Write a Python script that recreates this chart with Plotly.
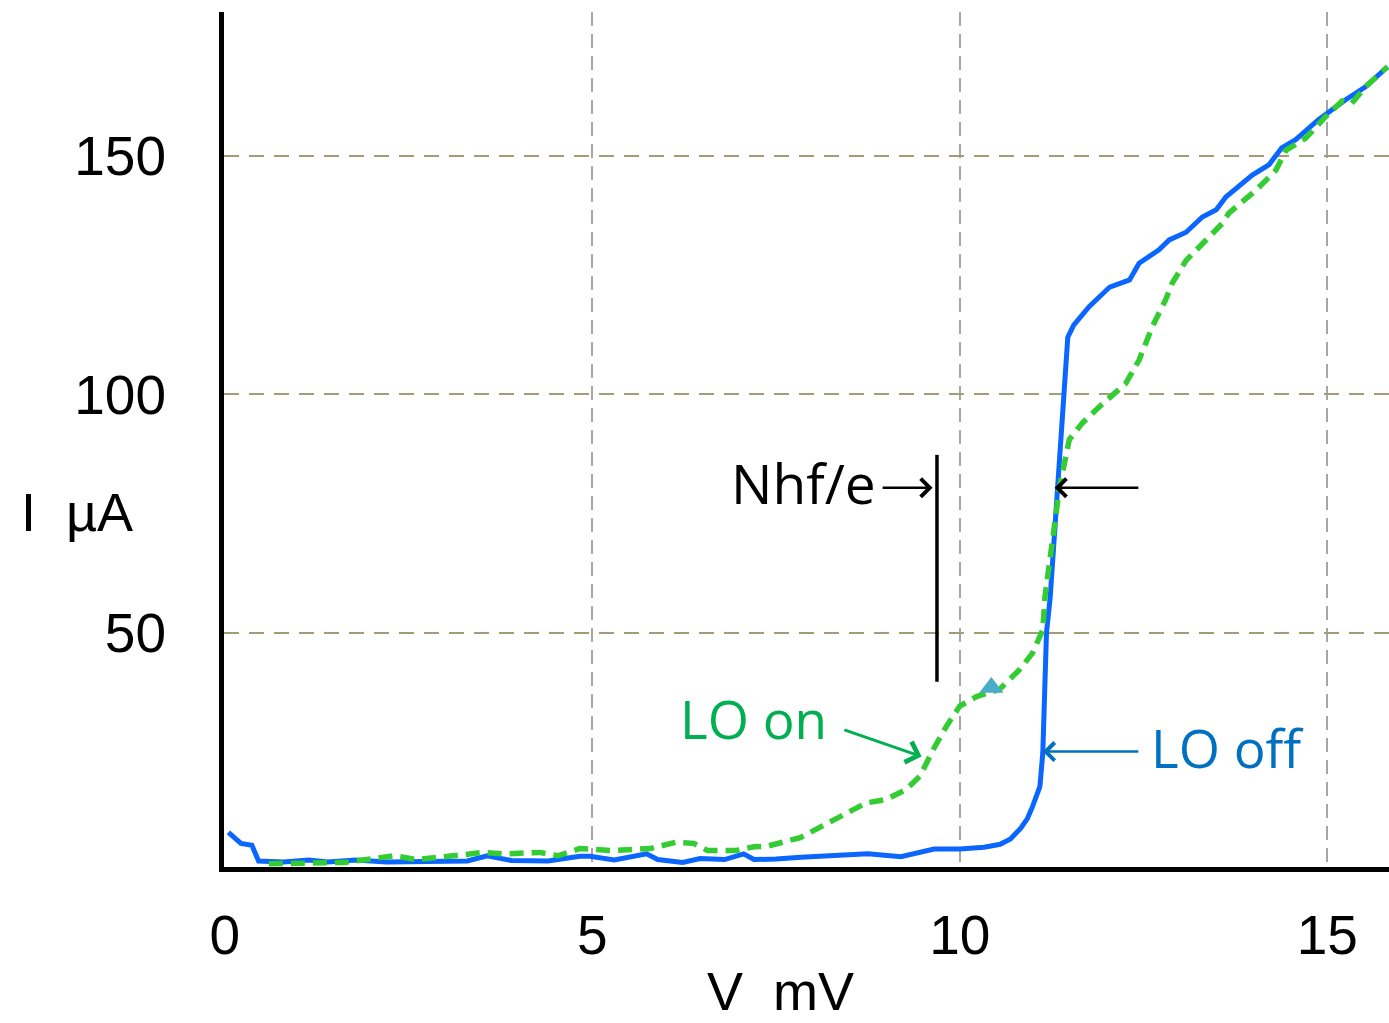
import plotly.graph_objects as go

# LO off (solid blue) I-V curve
v_off = [0.05, 0.22, 0.37, 0.46, 0.8, 1.14, 1.4, 1.78, 2.2, 2.8, 3.3, 3.57, 3.9, 4.4, 4.83, 4.97, 5.3,
         5.74, 5.89, 6.23, 6.47, 6.8, 7.06, 7.2, 7.5, 7.84, 8.3, 8.75, 9.2, 9.45, 9.65, 10.0, 10.33,
         10.55, 10.69, 10.83, 10.92, 10.99, 11.09, 11.13, 11.16, 11.18, 11.23, 11.33, 11.41, 11.47,
         11.55, 11.76, 12.04, 12.31, 12.44, 12.71, 12.85, 13.08, 13.30, 13.49, 13.62, 13.98, 14.21,
         14.38, 14.57, 14.88, 15.25, 15.52, 15.82]
i_off = [8.1, 5.8, 5.4, 2.1, 1.9, 2.3, 1.9, 2.3, 1.9, 2.0, 2.1, 3.2, 2.2, 2.1, 3.1, 3.1, 2.3,
         3.6, 2.4, 1.8, 2.6, 2.4, 3.6, 2.4, 2.5, 2.9, 3.2, 3.6, 3.0, 3.8, 4.6, 4.6, 5.0,
         5.6, 6.7, 9.0, 11.0, 13.5, 17.7, 24.8, 37.0, 50.0, 57.3, 80.4, 100.1, 112.0,
         114.5, 118.4, 122.5, 124.0, 127.5, 130.3, 132.4, 134.0, 137.2, 138.7, 141.4, 146.0, 148.2,
         151.7, 153.4, 157.6, 161.8, 164.5, 168.7]

# LO on (dashed green) I-V curve
v_on = [0.6, 0.95, 1.63, 2.31, 2.6, 3.18, 3.51, 3.81, 4.29, 4.53, 4.83, 5.26, 5.79, 6.13, 6.38, 6.57,
        6.96, 7.2, 7.38, 7.83, 8.28, 8.73, 9.0, 9.27, 9.46, 9.64, 9.82, 10.0, 10.23, 10.54, 10.81,
        10.99, 11.13, 11.16, 11.25, 11.36, 11.49, 11.67, 11.9, 12.26, 12.44, 12.62, 12.8, 12.89,
        13.08, 13.35, 13.57, 13.66, 13.8, 14.03, 14.3, 14.44, 14.71, 14.98, 15.2, 15.33, 15.52, 15.82]
i_on = [1.5, 1.7, 1.8, 3.2, 2.4, 3.3, 3.9, 3.6, 3.9, 3.2, 4.7, 4.3, 4.7, 6.0, 5.8, 4.3,
        4.3, 5.1, 5.2, 7.0, 10.8, 14.3, 15.0, 17.1, 19.9, 25.5, 30.4, 34.6, 36.6, 38.1, 42.2,
        45.7, 50.6, 57.6, 68.0, 80.7, 90.5, 94.0, 97.4, 102.3, 107.2, 114.2, 119.8, 123.3,
        128.1, 132.3, 135.8, 138.0, 139.7, 142.8, 147.0, 151.2, 153.8, 158.3, 161.5, 161.0, 164.5, 168.7]

marker_v = [10.43]
marker_i = [38.5]

x_ticks = [0, 5, 10, 15]
y_ticks = [0, 50, 100, 150]

fig = go.Figure()
fig.add_trace(go.Scatter(x=v_off, y=i_off, mode="lines",
                         line=dict(color="#0A66FF", width=5), showlegend=False))
fig.add_trace(go.Scatter(x=v_on, y=i_on, mode="lines",
                         line=dict(color="#33CC33", width=5.5, dash="14px,8px"), showlegend=False))
fig.add_trace(go.Scatter(x=marker_v, y=marker_i, mode="markers",
                         marker=dict(symbol="triangle-up", size=21, color="#4BACC6"), showlegend=False))

# vertical marker line (Nhf/e)
fig.add_shape(type="line", x0=9.69, x1=9.69, y0=39.7, y1=87.3,
              line=dict(color="black", width=3.5))

ann_font = "Open Sans"
anns = [
    dict(text="Nhf/e", x=8.89, y=81.6, xanchor="right", yanchor="middle", showarrow=False,
         font=dict(family=ann_font, size=55, color="black")),
    dict(text="", x=9.63, y=80.4, ax=8.93, ay=80.4, axref="x", ayref="y", showarrow=True,
         arrowhead=4, arrowsize=1.4, arrowwidth=2.5, arrowcolor="black", standoff=0),
    dict(text="", x=11.29, y=80.4, ax=12.45, ay=80.4, axref="x", ayref="y", showarrow=True,
         arrowhead=4, arrowsize=1.4, arrowwidth=2.5, arrowcolor="black", standoff=0),
    dict(text="LO on", x=7.2, y=32.0, xanchor="center", yanchor="middle", showarrow=False,
         font=dict(family=ann_font, size=53, color="#00B050")),
    dict(text="", x=9.48, y=24.0, ax=8.41, ay=29.7, axref="x", ayref="y", showarrow=True,
         arrowhead=4, arrowsize=1.4, arrowwidth=3, arrowcolor="#00B050", standoff=0),
    dict(text="LO off", x=13.65, y=25.9, xanchor="center", yanchor="middle", showarrow=False,
         font=dict(family=ann_font, size=53, color="#0070C0")),
    dict(text="", x=11.13, y=25.05, ax=12.45, ay=25.05, axref="x", ayref="y", showarrow=True,
         arrowhead=4, arrowsize=1.4, arrowwidth=2.5, arrowcolor="#0070C0", standoff=0),
    dict(text="I\u00a0\u00a0µA", x=-0.126, xref="paper", y=75.4, yref="y",
         xanchor="center", yanchor="middle", showarrow=False,
         font=dict(family="Liberation Sans", size=54, color="black")),
    dict(text="V\u00a0\u00a0mV", x=7.56, xref="x", y=0, yref="paper", yshift=-156,
         xanchor="center", yanchor="bottom", showarrow=False,
         font=dict(family="Liberation Sans", size=54, color="black")),
]
for a in anns:
    fig.add_annotation(**a)

fig.update_layout(
    width=1389, height=1023,
    margin=dict(l=224, r=0, t=12, b=156),
    plot_bgcolor="white", paper_bgcolor="white",
    font=dict(family="Liberation Sans", color="black"),
)
fig.update_xaxes(range=[-0.01, 15.84], tickvals=x_ticks, ticktext=[str(t) for t in x_ticks],
                 showgrid=True, gridcolor="#A6A6A6", gridwidth=2, griddash="14px,8px",
                 showline=True, linecolor="black", linewidth=5, zeroline=False,
                 ticks="", ticklabelstandoff=16, tickfont=dict(size=55, family="Liberation Sans"))
fig.update_yaxes(range=[0.84, 180.2], tickvals=y_ticks, ticktext=[str(t) for t in y_ticks],
                 showgrid=True, gridcolor="#A39C77", gridwidth=2, griddash="15px,10px",
                 showline=True, linecolor="black", linewidth=5, zeroline=False,
                 ticks="", ticklabelstandoff=42, tickfont=dict(size=55, family="Liberation Sans"))

fig.write_html("out.html")
